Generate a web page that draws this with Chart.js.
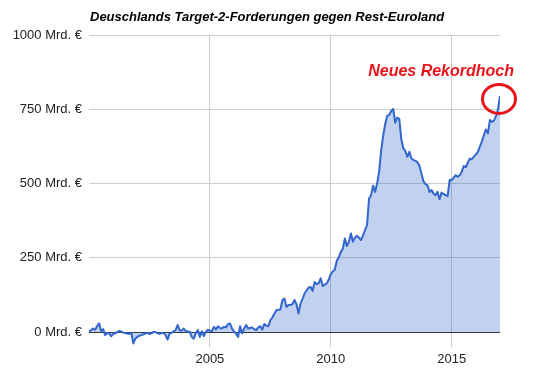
<!DOCTYPE html>
<html><head><meta charset="utf-8">
<script src="https://cdn.jsdelivr.net/npm/chart.js@4/dist/chart.umd.min.js"></script>
<style>html,body{margin:0;padding:0;background:#fff}canvas{display:block}</style>
</head><body><canvas id="c" width="541" height="373" style="width:541px;height:373px"></canvas>
<script>
// Monthly German TARGET2 claims (Mrd. €), Jan 2000 onward
const startYear = 2000;
const y2000 = [3, 6, 12, 8, 20, 30, 4, 10, -10, -3, -4, -14];
const y2001 = [-6, -4, 0, 4, 2, -2, -3, -5, -6, -2, -38, -22];
const y2002 = [-16, -12, -10, -7, -5, -2, -6, -4, 1, 0, -3, -6];
const y2003 = [-3, -2, -10, -25, -5, -2, 3, 7, 24, 6, 5, 12];
const y2004 = [4, 2, 1, -16, -22, -4, 7, -16, 3, -13, 1, 8];
const y2005 = [5, 3, 18, 9, 20, 14, 12, 18, 16, 27, 29, 12];
const y2006 = [2, -5, -16, 20, -4, 12, 24, 12, 14, 16, 10, 7];
const y2007 = [16, 20, 9, 27, 22, 20, 40, 49, 62, 74, 75, 76];
const y2008 = [108, 113, 85, 91, 92, 94, 108, 94, 63, 96, 112, 130];
const y2009 = [140, 150, 152, 139, 169, 162, 164, 181, 155, 160, 164, 177];
const y2010 = [195, 205, 210, 240, 252, 270, 281, 315, 290, 304, 332, 304];
const y2011 = [318, 324, 318, 310, 326, 343, 360, 450, 461, 493, 472, 500];
const y2012 = [540, 610, 660, 700, 728, 731, 744, 751, 705, 722, 718, 650];
const y2013 = [619, 610, 590, 607, 585, 579, 577, 572, 560, 534, 508, 498];
const y2014 = [494, 472, 478, 467, 461, 472, 447, 470, 465, 461, 458, 512];
const y2015 = [512, 520, 528, 523, 528, 540, 559, 555, 570, 584, 582, 590];
const y2016 = [598, 607, 624, 641, 663, 682, 669, 714, 708, 712, 727, 750];
const y2017 = [795];
const yTicks = [0, 250, 500, 750, 1000];
const xTicks = [2005, 2010, 2015];
const titleText = 'Deuschlands Target-2-Forderungen gegen Rest-Euroland';
const annotationText = 'Neues Rekordhoch';

const values = [].concat(y2000,y2001,y2002,y2003,y2004,y2005,y2006,y2007,y2008,y2009,y2010,y2011,y2012,y2013,y2014,y2015,y2016,y2017);
const points = values.map((v,i)=>({x:startYear + i/12, y:v}));

const FONT = '"Liberation Sans", Arial, sans-serif';

const overlay = {
  id:'overlay',
  afterDraw(chart){
    const ctx = chart.ctx, a = chart.chartArea;
    ctx.save();
    ctx.fillStyle = '#000';
    ctx.font = 'italic bold 13px ' + FONT;
    ctx.textAlign = 'left'; ctx.textBaseline = 'middle';
    ctx.fillText(titleText, a.left + 1, 17);
    const meta = chart.getDatasetMeta(0);
    const last = meta.data[meta.data.length-1];
    ctx.strokeStyle = '#e8141c'; ctx.lineWidth = 3;
    ctx.beginPath();
    ctx.ellipse(last.x - 1, last.y + 3, 16.5, 14.5, 0, 0, Math.PI*2);
    ctx.stroke();
    ctx.fillStyle = '#e8141c';
    ctx.font = 'italic bold 16px ' + FONT;
    ctx.textAlign = 'right'; ctx.textBaseline = 'middle';
    ctx.fillText(annotationText, last.x + 14, last.y - 24);
    ctx.restore();
  }
};

new Chart(document.getElementById('c'), {
  type:'line',
  data:{datasets:[{
    data: points,
    borderColor:'#3366cc',
    backgroundColor:'rgba(51,102,204,0.3)',
    borderWidth:2,
    pointRadius:0,
    tension:0,
    fill:'origin',
    borderJoinStyle:'round'
  }]},
  options:{
    responsive:false,
    animation:false,
    devicePixelRatio:1,
    layout:{padding:{top:35,right:41,left:0,bottom:0}},
    plugins:{legend:{display:false},tooltip:{enabled:false}},
    scales:{
      x:{
        type:'linear', min:startYear, max:startYear + (values.length-1)/12,
        afterBuildTicks(s){ s.ticks = xTicks.map(v=>({value:v})); },
        afterFit(s){ s.height = 26; },
        grid:{color:'#cccccc', drawTicks:false},
        border:{display:false},
        ticks:{color:'#222', font:{family:FONT,size:13}, padding:5, maxRotation:0, callback:v=>String(v)}
      },
      y:{
        min:-50, max:1000,
        afterBuildTicks(s){ s.ticks = yTicks.map(v=>({value:v})); },
        afterFit(s){ s.width = 89; },
        grid:{color:c=>c.tick && c.tick.value===0 ? '#333333' : '#cccccc', drawTicks:false},
        border:{display:false},
        ticks:{color:'#222', font:{family:FONT,size:13}, padding:7, callback:v=>v + ' Mrd. €'}
      }
    }
  },
  plugins:[overlay]
});
</script>
</body></html>
